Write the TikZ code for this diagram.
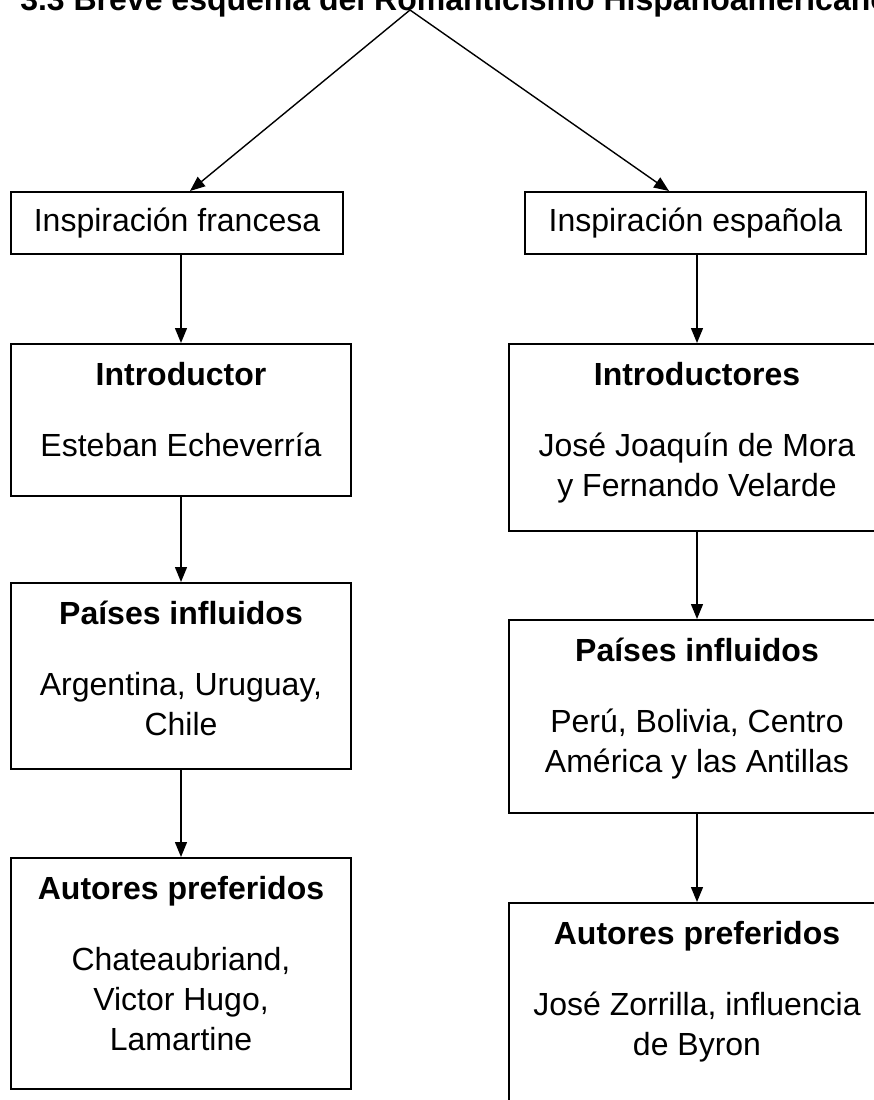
\documentclass[tikz,border=0pt]{standalone}
\usepackage{fontspec}
\setmainfont{Liberation Sans}
\usetikzlibrary{arrows.meta, positioning}
% espacio vacio al pie de cada caja
\newcommand{\relleno}[1]{\rule[-#1pt]{0pt}{#1pt}}

\begin{document}
\begin{tikzpicture}[x=1pt, y=-1pt, line width=1.6pt,
    >={Triangle[length=15pt, width=12pt]},
    caja/.style={draw, rectangle, inner sep=0pt, align=center, anchor=north,
      font=\fontsize{32}{40}\selectfont},
    flecha/.style={->, line width=1.4pt}]
    \useasboundingbox (0,0) rectangle (874,1100);

    % Titulo
    \node[anchor=base west, inner sep=0pt, font=\fontsize{32}{40}\selectfont\bfseries] (titulo) at (19.5,10.5) {3.3 Breve esquema del Romanticismo Hispanoamericano};
    \coordinate (cima) at (410,10);

    % Inspiracion francesa
    \node[caja, minimum width=332pt, minimum height=62pt] (f1) at (177,191) {Inspiración francesa};
    \node[caja, minimum width=340pt, minimum height=152pt] (f2) at (181,343) {\textbf{Introductor}\\[31pt]Esteban Echeverría\relleno{21}};
    \node[caja, minimum width=340pt, minimum height=186pt] (f3) at (181,582) {\textbf{Países influidos}\\[31pt]Argentina, Uruguay,\\Chile\relleno{15}};
    \node[caja, minimum width=340pt, minimum height=231pt] (f4) at (181,857) {\textbf{Autores preferidos}\\[31pt]Chateaubriand,\\Victor Hugo,\\Lamartine\relleno{20}};

    % Inspiracion espanola
    \node[caja, minimum width=341pt, minimum height=62pt] (e1) at (695.5,191) {Inspiración española};
    \node[caja, minimum width=376pt, minimum height=187pt] (e2) at (697,343) {\textbf{Introductores}\\[31pt]José Joaquín de Mora\\y Fernando Velarde\relleno{16}};
    \node[caja, minimum width=376pt, minimum height=193pt] (e3) at (697,619) {\textbf{Países influidos}\\[31pt]Perú, Bolivia, Centro\\América y las Antillas\relleno{22}};
    \node[caja, minimum width=376pt, minimum height=218pt] (e4) at (697,902) {\textbf{Autores preferidos}\\[31pt]José Zorrilla, influencia\\de Byron\relleno{47}};

    % Flechas
    \draw[flecha] (cima) -- ([xshift=13pt]f1.north);
    \draw[flecha] (cima) -- ([xshift=-26.5pt]e1.north);
    \draw[flecha] (f2.north |- f1.south) -- (f2.north);
    \draw[flecha] (f2.south) -- (f3.north);
    \draw[flecha] (f3.south) -- (f4.north);
    \draw[flecha] (e2.north |- e1.south) -- (e2.north);
    \draw[flecha] (e2.south) -- (e3.north);
    \draw[flecha] (e3.south) -- (e4.north);
\end{tikzpicture}
\end{document}
